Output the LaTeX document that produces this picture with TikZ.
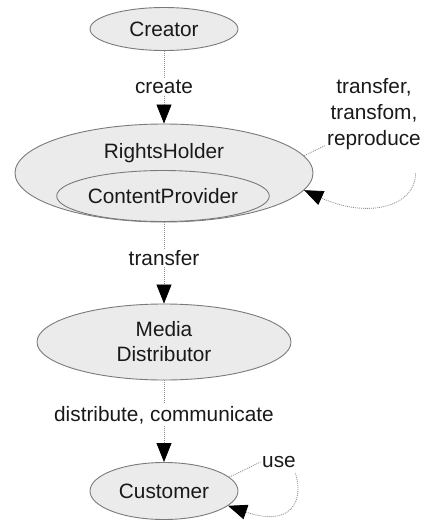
\documentclass[tikz,border=0pt]{standalone}
\usepackage{fontspec}
\setmainfont{Liberation Sans}
\usetikzlibrary{shapes.geometric,arrows.meta,calc}
\definecolor{efill}{HTML}{EBEBEB}
\definecolor{edraw}{HTML}{7A7A7A}
\definecolor{lgray}{HTML}{8C8C8C}
\begin{document}
\begin{tikzpicture}[x=1pt,y=-1pt,
  every node/.style={font=\fontsize{20.8}{25}\selectfont, text=black!90},
  ell/.style={ellipse, draw=edraw, fill=efill, line width=0.9pt, inner sep=0pt},
  lbl/.style={inner sep=1.5pt},
  conn/.style={draw=lgray, line width=0.8pt, dash pattern=on 1pt off 1pt},
  arr/.style={conn, -{Triangle[width=15pt,length=19pt,black]}}]
\useasboundingbox (0,0) rectangle (424,520);
% nodes
\node[ell, minimum width=148pt, minimum height=43pt] (cr) at (164,29) {Creator};
\node[lbl] (create) at (164,87) {create};
\node[ell, minimum width=298pt, minimum height=98pt] (rh) at (164,173) {};
\node (rht) at (164,153) {RightsHolder};
\node[ell, minimum width=202pt, minimum height=51pt] (cp) at (163,196) {ContentProvider};
\node[lbl] (tr) at (164,258) {transfer};
\node[ell, minimum width=254pt, minimum height=76pt, align=center] (md) at (164,342) {Media\\Distributor};
\node[lbl] (dc) at (164,415) {distribute, communicate};
\node[ell, minimum width=148pt, minimum height=57pt] (cu) at (164,491) {Customer};
\node[lbl, align=center, font=\fontsize{20.8}{26}\selectfont] (tl) at (374,114) {transfer,\\transfom,\\reproduce};
\node[lbl] (use) at (279,462) {use};
% connectors
\draw[conn] (cr) -- (create);
\draw[arr] (create) -- (rh);
\draw[conn] (rh) -- (tr);
\draw[arr] (tr) -- (md);
\draw[conn] (md) -- (dc);
\draw[arr] (dc) -- (cu);
\draw[conn] (rh.7) -- ($(tl.south west)+(0,-6)$);
\draw[arr] ($(tl.south east)+(-7,22)$) .. controls (416,205) and (370,220) .. (rh.-7);
\draw[conn] (cu.12) -- (use.west);
\draw[arr] ($(use.south east)+(-2,4)$) .. controls (304,500) and (292,528) .. (cu.-13);
\end{tikzpicture}
\end{document}
